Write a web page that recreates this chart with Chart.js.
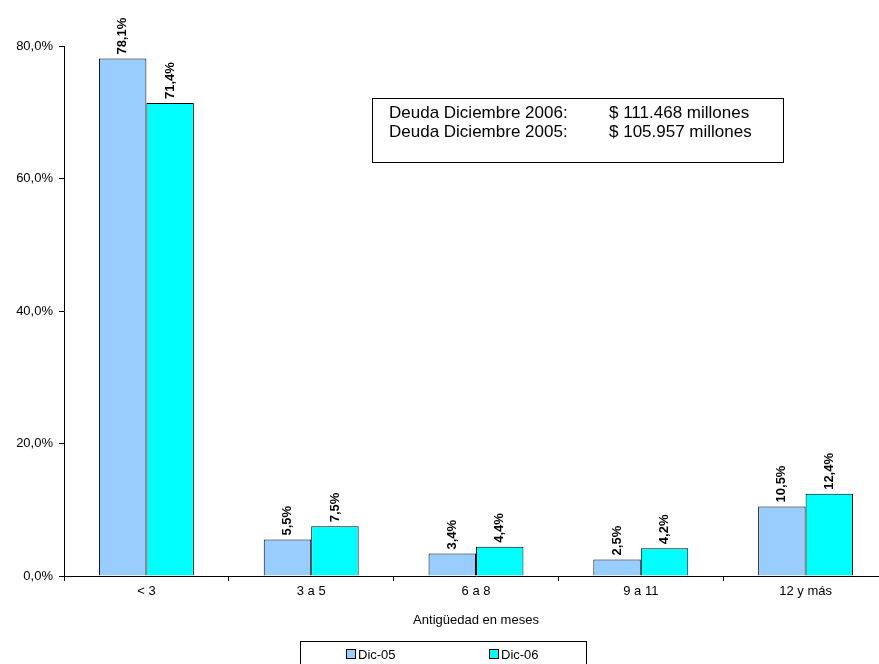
<!DOCTYPE html>
<html lang="es">
<head>
    <meta charset="UTF-8">
    <title>Antigüedad de la deuda</title>
    <script src="https://cdn.jsdelivr.net/npm/chart.js"></script>
    <style>
        html, body { margin: 0; padding: 0; background: #fff; overflow: hidden; }
    </style>
</head>
<body>
    <canvas id="deudaChart" width="900" height="664"></canvas>

    <script>
        const categories = ['< 3', '3 a 5', '6 a 8', '9 a 11', '12 y más'];
        const dic05 = [78.1, 5.5, 3.4, 2.5, 10.5];
        const dic06 = [71.4, 7.5, 4.4, 4.2, 12.4];
        const seriesNames = ['Dic-05', 'Dic-06'];
        const yTicks = [0, 20, 40, 60, 80];
        const noteLines = [
            ['Deuda Diciembre 2006:', '$ 111.468 millones'],
            ['Deuda Diciembre 2005:', '$ 105.957 millones']
        ];

        const FONT = '"Liberation Sans", Arial, sans-serif';
        const fmt = v => v.toFixed(1).replace('.', ',') + '%';

        // rotated value labels above each bar
        const barLabels = {
            id: 'barLabels',
            afterDatasetsDraw(chart) {
                const ctx = chart.ctx;
                ctx.save();
                ctx.font = 'bold 13px ' + FONT;
                ctx.fillStyle = '#000';
                ctx.textAlign = 'left';
                ctx.textBaseline = 'middle';
                chart.data.datasets.forEach((ds, i) => {
                    chart.getDatasetMeta(i).data.forEach((bar, j) => {
                        ctx.save();
                        ctx.translate(bar.x, bar.y - 4);
                        ctx.rotate(-Math.PI / 2);
                        ctx.fillText(fmt(ds.data[j]), 0, 0);
                        ctx.restore();
                    });
                });
                ctx.restore();
            }
        };

        // note box and framed legend
        const extras = {
            id: 'extras',
            afterDraw(chart) {
                const ctx = chart.ctx;
                ctx.save();
                ctx.strokeStyle = '#000';
                ctx.lineWidth = 1;
                ctx.strokeRect(372.5, 98.5, 411, 64);
                ctx.font = '17px ' + FONT;
                ctx.fillStyle = '#000';
                ctx.textBaseline = 'middle';
                noteLines.forEach((l, i) => {
                    ctx.fillText(l[0], 389, 113 + i * 19);
                    ctx.fillText(l[1], 609, 113 + i * 19);
                });

                // legend
                ctx.strokeRect(300.5, 641.5, 286, 30);
                ctx.font = '13px ' + FONT;
                const xs = [346, 489];
                chart.data.datasets.forEach((ds, i) => {
                    ctx.fillStyle = ds.backgroundColor;
                    ctx.fillRect(xs[i] + 0.5, 649.5, 9, 9);
                    ctx.strokeRect(xs[i] + 0.5, 649.5, 9, 9);
                    ctx.fillStyle = '#000';
                    ctx.fillText(ds.label, xs[i] + 12, 655);
                });
                ctx.restore();
            }
        };

        Chart.defaults.font.family = FONT;
        Chart.defaults.font.size = 13;
        Chart.defaults.color = '#000';

        new Chart(document.getElementById('deudaChart'), {
            type: 'bar',
            data: {
                labels: categories,
                datasets: [
                    {
                        label: seriesNames[0],
                        data: dic05,
                        backgroundColor: '#99CCFF',
                        borderColor: '#000',
                        borderWidth: 1
                    },
                    {
                        label: seriesNames[1],
                        data: dic06,
                        backgroundColor: '#00FFFF',
                        borderColor: '#000',
                        borderWidth: 1
                    }
                ]
            },
            options: {
                responsive: false,
                animation: false,
                categoryPercentage: 0.576,
                barPercentage: 1,
                layout: { padding: { top: 46, right: 12, bottom: 32, left: 0 } },
                plugins: {
                    legend: { display: false },
                    tooltip: { enabled: false }
                },
                scales: {
                    x: {
                        grid: { offset: true, drawOnChartArea: false, color: '#000', tickLength: 5 },
                        border: { color: '#000', width: 1 },
                        ticks: { padding: 3, maxRotation: 0 },
                        title: { display: true, text: 'Antigüedad en meses', padding: { top: 12 } },
                        afterFit(scale) { scale.height = 56; }
                    },
                    y: {
                        min: 0,
                        max: 80,
                        afterBuildTicks(scale) { scale.ticks = yTicks.map(v => ({ value: v })); },
                        grid: { drawOnChartArea: false, color: '#000', tickLength: 5 },
                        border: { color: '#000', width: 1 },
                        ticks: { padding: 6, callback: v => fmt(v) },
                        afterFit(scale) { scale.width = 64; }
                    }
                }
            },
            plugins: [barLabels, extras]
        });
    </script>
</body>
</html>
